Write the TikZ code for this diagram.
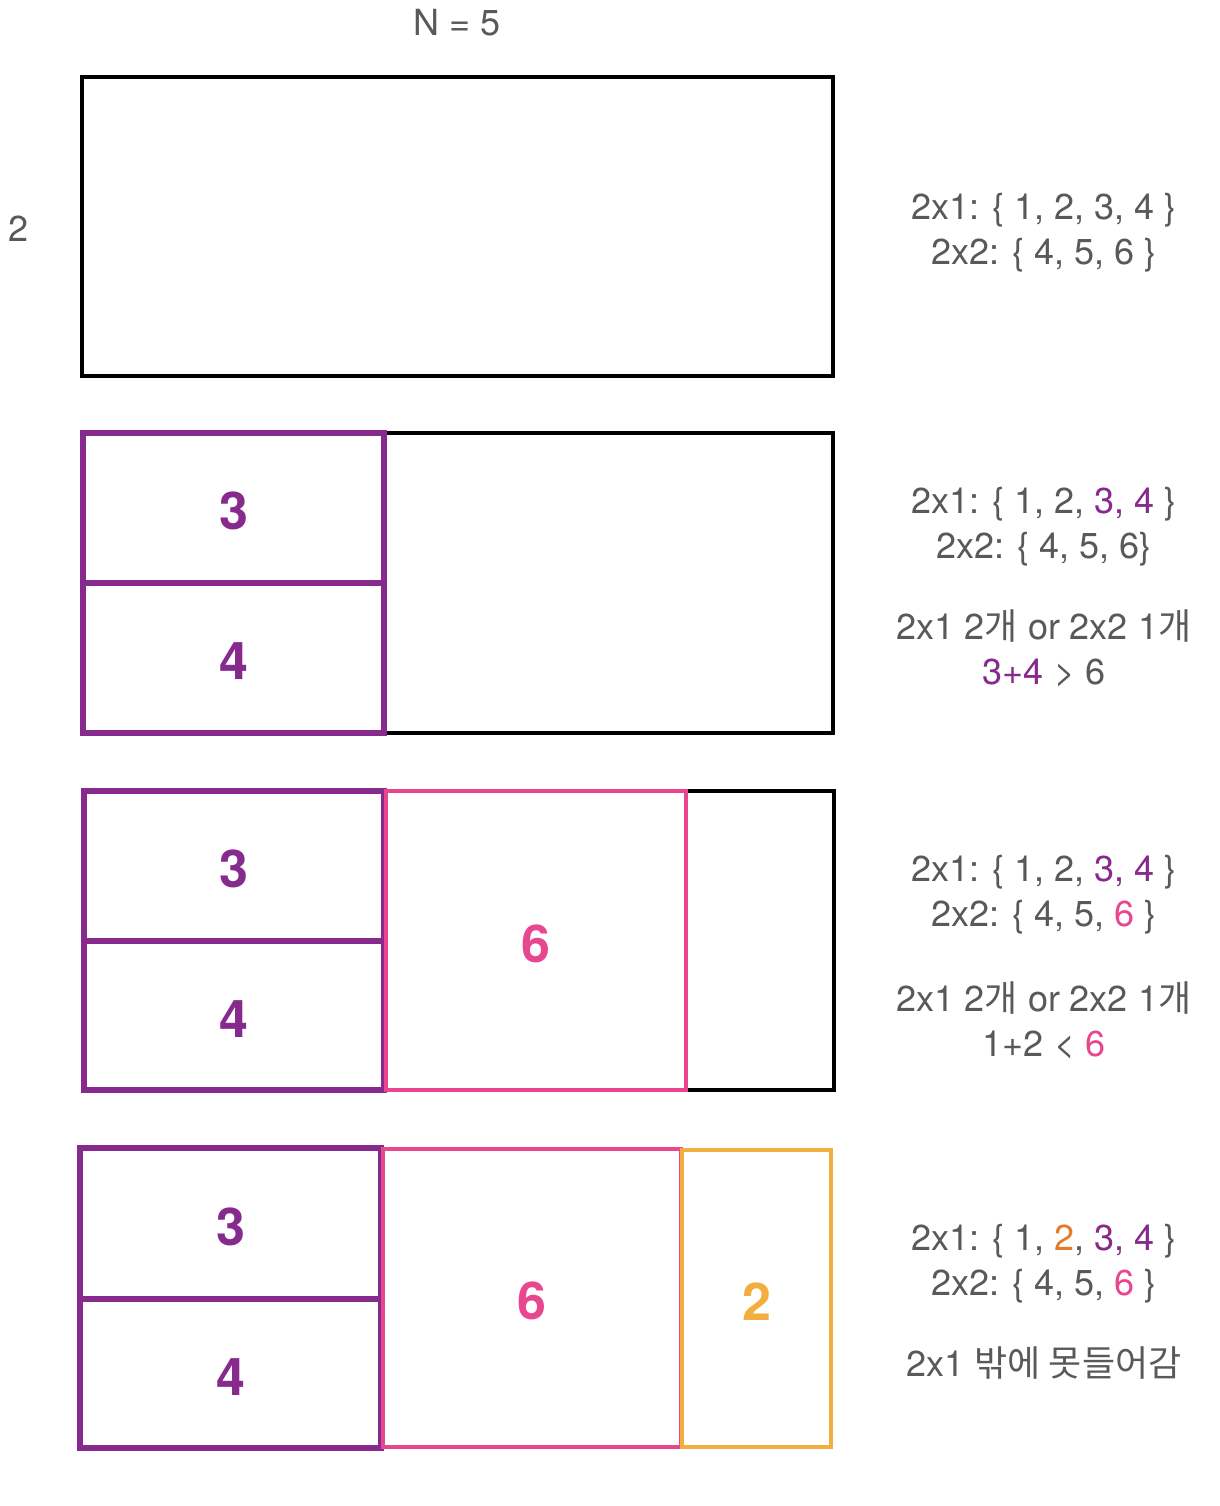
\documentclass[tikz,border=0pt]{standalone}
\usepackage{fontspec}
\setmainfont{TeX Gyre Heros}
\newfontfamily\kr{Noto Sans CJK KR}
\definecolor{cpurple}{HTML}{862A8D}
\definecolor{cpink}{HTML}{E8478F}
\definecolor{corange}{HTML}{F2AE3F}
\definecolor{corangetxt}{HTML}{E67A2B}
\definecolor{cgray}{HTML}{595959}
\tikzset{
  frame/.style={draw=black, line width=2pt, inner sep=0pt, outer sep=0pt},
  cellbase/.style={line width=2.2pt, inner sep=0pt, outer sep=0pt, font=\fontsize{26}{30}\selectfont\bfseries, text height=21.7pt, text depth=0pt},
  pcell/.style={cellbase, line width=2.6pt, draw=cpurple, text=cpurple},
  kcell/.style={cellbase, draw=cpink, text=cpink},
  ocell/.style={cellbase, draw=corange, text=corange},
  note/.style={text=cgray, font=\fontsize{18}{22.5}\selectfont, align=center, inner sep=0pt}
}
\begin{document}
\begin{tikzpicture}[x=0.5pt,y=-0.5pt]
\fill[white] (0,0) rectangle (1220,1506);
\useasboundingbox (0,0) rectangle (1220,1506);

% labels
\node[note] (ntitle) at (457,23) {N = 5};
\node[note] (nheight) at (19,229) {2};

% panel 1
\node[frame, minimum width=375.5pt, minimum height=149.5pt] (p1) at (457.5,226.5) {};
\node[note] (t1) at (1044,233) {2x1: \{ 1, 2, 3, 4 \}\\2x2: \{ 4, 5, 6 \}};

% panel 2
\node[frame, minimum width=375.5pt, minimum height=150pt] (p2) at (457.5,583) {};
\node[pcell, minimum width=150.5pt, minimum height=75pt] (p2a) at (233.5,508) {3};
\node[pcell, minimum width=150.5pt, minimum height=75pt] (p2b) at (233.5,658) {4};
\node[note] (t2a) at (1044,527) {2x1: \{ 1, 2, \textcolor{cpurple}{3, 4} \}\\2x2: \{ 4, 5, 6\}};
\node[note] (t2b) at (1044,648) {2x1 2{\kr 개} or 2x2 1{\kr 개}\\\textcolor{cpurple}{3+4} > 6};

% panel 3
\node[frame, minimum width=375pt, minimum height=149.5pt] (p3) at (459,940.5) {};
\node[pcell, minimum width=150pt, minimum height=75pt] (p3a) at (234,866) {3};
\node[pcell, minimum width=150pt, minimum height=74.5pt] (p3b) at (234,1015.5) {4};
\node[kcell, minimum width=150pt, minimum height=149.5pt] (p3c) at (536,940.5) {6};
\node[note] (t3a) at (1044,895) {2x1: \{ 1, 2, \textcolor{cpurple}{3, 4} \}\\2x2: \{ 4, 5, \textcolor{cpink}{6} \}};
\node[note] (t3b) at (1044,1020) {2x1 2{\kr 개} or 2x2 1{\kr 개}\\1+2 < \textcolor{cpink}{6}};

% panel 4
\node[pcell, minimum width=150.5pt, minimum height=75.5pt] (p4a) at (230.5,1223.5) {3};
\node[pcell, minimum width=150.5pt, minimum height=74.5pt] (p4b) at (230.5,1373.5) {4};
\node[kcell, minimum width=149pt, minimum height=149pt] (p4c) at (532,1298) {6};
\node[ocell, minimum width=74.5pt, minimum height=148.5pt] (p4d) at (756.5,1298.5) {2};
\node[note] (t4a) at (1044,1264) {2x1: \{ 1, \textcolor{corangetxt}{2}, \textcolor{cpurple}{3, 4} \}\\2x2: \{ 4, 5, \textcolor{cpink}{6} \}};
\node[note] (t4b) at (1044,1363) {2x1 {\kr 밖에 못들어감}};
\end{tikzpicture}
\end{document}
